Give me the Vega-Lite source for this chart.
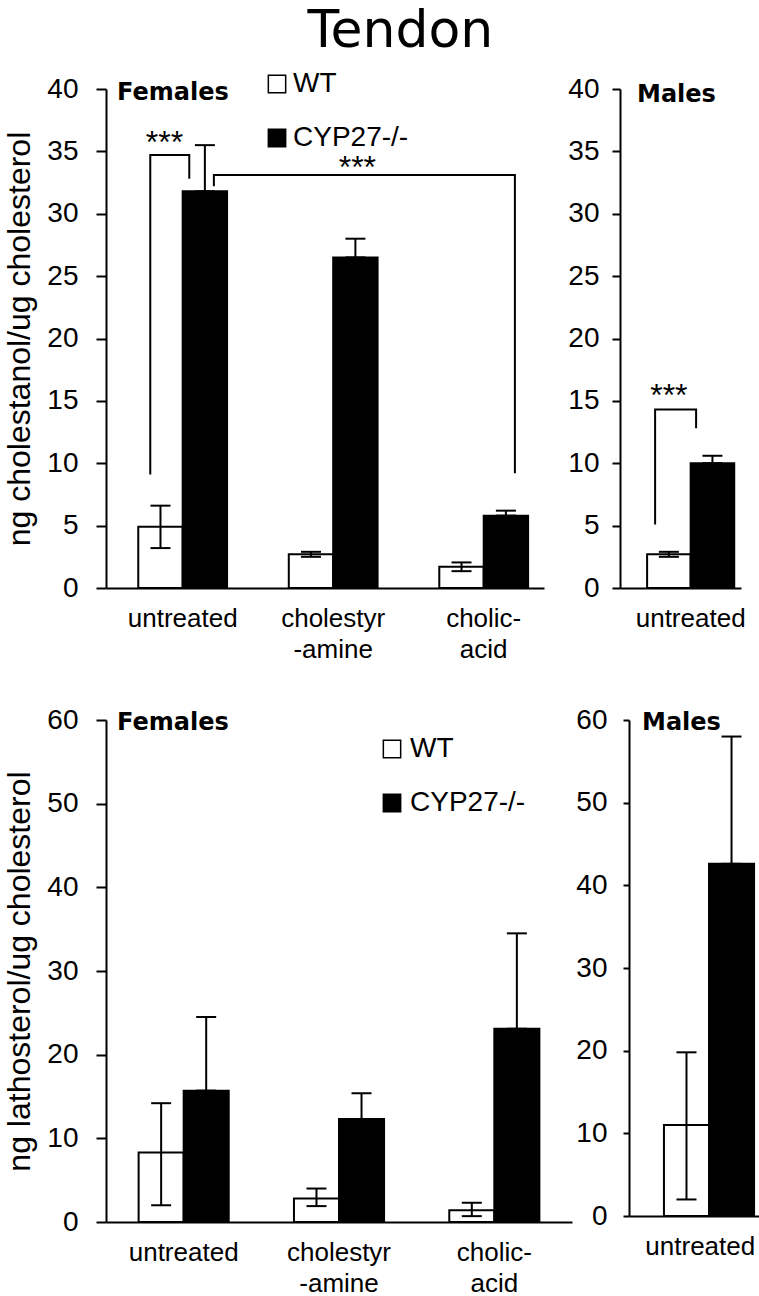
{
  "$schema": "https://vega.github.io/schema/vega-lite/v6.json",
  "padding": {"left": 3, "top": 5, "right": 0, "bottom": 0},
  "title": {"text": "Tendon", "font": "DejaVu Sans", "fontSize": 52, "fontWeight": "normal", "color": "black", "anchor": "middle", "dx": 17, "offset": 12},
  "config": {
    "view": {"stroke": null},
    "font": "Liberation Sans",
    "axis": {"domainColor": "black", "domainWidth": 2, "tickColor": "black", "tickWidth": 2, "labelColor": "black", "labelFont": "Liberation Sans", "titleFont": "Liberation Sans", "titleColor": "black", "grid": false},
    "legend": {"labelFont": "Liberation Sans", "labelColor": "black", "labelFontSize": 28, "symbolType": "square", "symbolSize": 300, "symbolStrokeColor": "black", "symbolStrokeWidth": 1.5, "symbolOpacity": 1, "padding": 0, "rowPadding": 26, "title": null, "direction": "vertical"}
  },
  "datasets": {
    "chol_f": [
      {"treatment": "untreated", "genotype": "WT", "mean": 4.9, "lo": 3.2, "hi": 6.6},
      {"treatment": "untreated", "genotype": "CYP27-/-", "mean": 31.8, "lo": 31.8, "hi": 35.5},
      {"treatment": "cholestyr|-amine", "genotype": "WT", "mean": 2.7, "lo": 2.5, "hi": 2.9},
      {"treatment": "cholestyr|-amine", "genotype": "CYP27-/-", "mean": 26.5, "lo": 26.5, "hi": 28.0},
      {"treatment": "cholic-|acid", "genotype": "WT", "mean": 1.7, "lo": 1.35, "hi": 2.05},
      {"treatment": "cholic-|acid", "genotype": "CYP27-/-", "mean": 5.8, "lo": 5.8, "hi": 6.2}
    ],
    "chol_m": [
      {"treatment": "untreated", "genotype": "WT", "mean": 2.7, "lo": 2.5, "hi": 2.9},
      {"treatment": "untreated", "genotype": "CYP27-/-", "mean": 10.0, "lo": 10.0, "hi": 10.6}
    ],
    "lath_f": [
      {"treatment": "untreated", "genotype": "WT", "mean": 8.3, "lo": 2.0, "hi": 14.2},
      {"treatment": "untreated", "genotype": "CYP27-/-", "mean": 15.7, "lo": 15.7, "hi": 24.5},
      {"treatment": "cholestyr|-amine", "genotype": "WT", "mean": 2.8, "lo": 1.9, "hi": 4.0},
      {"treatment": "cholestyr|-amine", "genotype": "CYP27-/-", "mean": 12.3, "lo": 12.3, "hi": 15.4},
      {"treatment": "cholic-|acid", "genotype": "WT", "mean": 1.4, "lo": 0.7, "hi": 2.3},
      {"treatment": "cholic-|acid", "genotype": "CYP27-/-", "mean": 23.1, "lo": 23.1, "hi": 34.5}
    ],
    "lath_m": [
      {"treatment": "untreated", "genotype": "WT", "mean": 11.0, "lo": 2.0, "hi": 19.8},
      {"treatment": "untreated", "genotype": "CYP27-/-", "mean": 42.6, "lo": 42.6, "hi": 58.0}
    ],
    "sig_fa": [
      {"step": 1, "treatment": "untreated", "genotype": "WT", "y": 9.1},
      {"step": 2, "treatment": "untreated", "genotype": "WT", "y": 34.7},
      {"step": 3, "treatment": "untreated", "genotype": "CYP27-/-", "y": 34.7},
      {"step": 4, "treatment": "untreated", "genotype": "CYP27-/-", "y": 32.8}
    ],
    "sig_fb": [
      {"step": 1, "treatment": "untreated", "genotype": "CYP27-/-", "y": 32.2},
      {"step": 2, "treatment": "untreated", "genotype": "CYP27-/-", "y": 33.1},
      {"step": 3, "treatment": "cholic-|acid", "genotype": "CYP27-/-", "y": 33.1},
      {"step": 4, "treatment": "cholic-|acid", "genotype": "CYP27-/-", "y": 9.2}
    ],
    "sig_m": [
      {"step": 1, "treatment": "untreated", "genotype": "WT", "y": 5.1},
      {"step": 2, "treatment": "untreated", "genotype": "WT", "y": 14.3},
      {"step": 3, "treatment": "untreated", "genotype": "CYP27-/-", "y": 14.3},
      {"step": 4, "treatment": "untreated", "genotype": "CYP27-/-", "y": 12.8}
    ],
    "stars_fa": [{"treatment": "untreated", "genotype": "WT", "y": 34.9, "label": "***"}],
    "stars_fb": [{"treatment": "cholestyr|-amine", "genotype": "CYP27-/-", "y": 32.9, "label": "***"}],
    "stars_m": [{"treatment": "untreated", "genotype": "WT", "y": 14.6, "label": "***"}]
  },
  "resolve": {"scale": {"fill": "independent"}, "legend": {"fill": "independent"}},
  "spacing": 44,
  "vconcat": [
    {
      "spacing": 23,
      "resolve": {"scale": {"fill": "independent"}, "legend": {"fill": "independent"}},
      "hconcat": [
        {
          "width": 438, "height": 499,
          "title": {"text": "Females", "anchor": "start", "frame": "group", "font": "DejaVu Sans", "fontSize": 24, "fontWeight": "bold", "color": "black", "baseline": "alphabetic", "offset": -44, "dx": 11, "dy": 10},
          "resolve": {"scale": {"xOffset": "independent"}},
          "encoding": {
            "x": {"field": "treatment", "type": "nominal", "sort": ["untreated", "cholestyr|-amine", "cholic-|acid"], "scale": {"paddingInner": 0.41, "paddingOuter": 0.16, "align": 0.67},
                  "axis": {"title": null, "ticks": false, "labelAngle": 0, "labelFontSize": 26, "labelLineHeight": 31, "labelPadding": 17, "labelExpr": "split(datum.label, '|')"}},
            "xOffset": {"field": "genotype", "type": "nominal", "sort": ["WT", "CYP27-/-"], "scale": {"domain": ["WT", "CYP27-/-"]}},
            "y": {"type": "quantitative", "scale": {"domain": [0, 40]},
                  "axis": {"values": [0, 5, 10, 15, 20, 25, 30, 35, 40], "title": "ng cholestanol/ug cholesterol", "titleFontSize": 32, "titleFontWeight": "normal", "titlePadding": 10, "labelFontSize": 28, "labelPadding": 18, "tickSize": 10}}
          },
          "layer": [
            {"data": {"name": "chol_f"}, "mark": {"type": "bar", "stroke": "black", "strokeWidth": 2},
             "encoding": {"y": {"field": "mean", "type": "quantitative"},
                          "fill": {"field": "genotype", "type": "nominal", "sort": ["WT", "CYP27-/-"], "scale": {"domain": ["WT", "CYP27-/-"], "range": ["white", "black"]},
                                   "legend": {"orient": "none", "legendX": 157, "legendY": -19, "labelOffset": 2}}}},
            {"data": {"name": "chol_f"}, "mark": {"type": "rule", "color": "black", "strokeWidth": 2},
             "encoding": {"y": {"field": "lo", "type": "quantitative"}, "y2": {"field": "hi"}}},
            {"data": {"name": "chol_f"}, "mark": {"type": "tick", "color": "black", "thickness": 2, "size": 20, "orient": "horizontal", "opacity": 1},
             "encoding": {"y": {"field": "hi", "type": "quantitative"}}},
            {"data": {"name": "chol_f"}, "mark": {"type": "tick", "color": "black", "thickness": 2, "size": 20, "orient": "horizontal", "opacity": 1},
             "encoding": {"y": {"field": "lo", "type": "quantitative"}}},
            {"data": {"name": "sig_fa"}, "mark": {"type": "line", "color": "black", "strokeWidth": 2},
             "encoding": {"y": {"field": "y", "type": "quantitative"}, "order": {"field": "step", "type": "quantitative"},
                          "xOffset": {"field": "genotype", "type": "nominal", "sort": ["WT", "CYP27-/-"], "scale": {"domain": ["WT", "CYP27-/-"], "range": [-7.5, 70.5]}}}},
            {"data": {"name": "sig_fb"}, "mark": {"type": "line", "color": "black", "strokeWidth": 2},
             "encoding": {"y": {"field": "y", "type": "quantitative"}, "order": {"field": "step", "type": "quantitative"},
                          "xOffset": {"field": "genotype", "type": "nominal", "sort": ["WT", "CYP27-/-"], "scale": {"domain": ["WT", "CYP27-/-"], "range": [9, 97.8]}}}},
            {"data": {"name": "stars_fa"}, "mark": {"type": "text", "font": "Liberation Sans", "fontSize": 32, "color": "black", "baseline": "alphabetic", "dx": 4},
             "encoding": {"y": {"field": "y", "type": "quantitative"}, "text": {"field": "label"}}},
            {"data": {"name": "stars_fb"}, "mark": {"type": "text", "font": "Liberation Sans", "fontSize": 32, "color": "black", "baseline": "alphabetic", "dx": 2},
             "encoding": {"y": {"field": "y", "type": "quantitative"}, "text": {"field": "label"}}}
          ]
        },
        {
          "width": 121, "height": 499,
          "title": {"text": "Males", "anchor": "start", "frame": "group", "font": "DejaVu Sans", "fontSize": 24, "fontWeight": "bold", "color": "black", "baseline": "alphabetic", "offset": -40, "dx": 17, "dy": 11},
          "resolve": {"scale": {"xOffset": "independent"}},
          "encoding": {
            "x": {"field": "treatment", "type": "nominal", "scale": {"paddingInner": 0.28, "paddingOuter": 0.14, "align": 0.8},
                  "axis": {"title": null, "ticks": false, "labelAngle": 0, "labelFontSize": 26, "labelLineHeight": 31, "labelPadding": 17}},
            "xOffset": {"field": "genotype", "type": "nominal", "sort": ["WT", "CYP27-/-"], "scale": {"domain": ["WT", "CYP27-/-"]}},
            "y": {"type": "quantitative", "scale": {"domain": [0, 40]},
                  "axis": {"values": [0, 5, 10, 15, 20, 25, 30, 35, 40], "title": null, "labelFontSize": 28, "labelPadding": 13, "tickSize": 8}}
          },
          "layer": [
            {"data": {"name": "chol_m"}, "mark": {"type": "bar", "stroke": "black", "strokeWidth": 2},
             "encoding": {"y": {"field": "mean", "type": "quantitative"},
                          "fill": {"field": "genotype", "type": "nominal", "scale": {"domain": ["WT", "CYP27-/-"], "range": ["white", "black"]}, "legend": null}}},
            {"data": {"name": "chol_m"}, "mark": {"type": "rule", "color": "black", "strokeWidth": 2},
             "encoding": {"y": {"field": "lo", "type": "quantitative"}, "y2": {"field": "hi"}}},
            {"data": {"name": "chol_m"}, "mark": {"type": "tick", "color": "black", "thickness": 2, "size": 20, "orient": "horizontal", "opacity": 1},
             "encoding": {"y": {"field": "hi", "type": "quantitative"}}},
            {"data": {"name": "chol_m"}, "mark": {"type": "tick", "color": "black", "thickness": 2, "size": 20, "orient": "horizontal", "opacity": 1},
             "encoding": {"y": {"field": "lo", "type": "quantitative"}}},
            {"data": {"name": "sig_m"}, "mark": {"type": "line", "color": "black", "strokeWidth": 2},
             "encoding": {"y": {"field": "y", "type": "quantitative"}, "order": {"field": "step", "type": "quantitative"},
                          "xOffset": {"field": "genotype", "type": "nominal", "sort": ["WT", "CYP27-/-"], "scale": {"domain": ["WT", "CYP27-/-"], "range": [-12.5, 69.5]}}}},
            {"data": {"name": "stars_m"}, "mark": {"type": "text", "font": "Liberation Sans", "fontSize": 32, "color": "black", "baseline": "alphabetic", "dx": 0},
             "encoding": {"y": {"field": "y", "type": "quantitative"}, "text": {"field": "label"}}}
          ]
        }
      ]
    },
    {
      "spacing": 3,
      "resolve": {"scale": {"fill": "independent"}, "legend": {"fill": "independent"}},
      "hconcat": [
        {
          "width": 466, "height": 502,
          "title": {"text": "Females", "anchor": "start", "frame": "group", "font": "DejaVu Sans", "fontSize": 24, "fontWeight": "bold", "color": "black", "baseline": "alphabetic", "offset": -37, "dx": 11, "dy": 11},
          "encoding": {
            "x": {"field": "treatment", "type": "nominal", "sort": ["untreated", "cholestyr|-amine", "cholic-|acid"], "scale": {"paddingInner": 0.42, "paddingOuter": 0.21, "align": 0.5},
                  "axis": {"title": null, "ticks": false, "labelAngle": 0, "labelFontSize": 26, "labelLineHeight": 31, "labelPadding": 17, "labelExpr": "split(datum.label, '|')"}},
            "xOffset": {"field": "genotype", "type": "nominal", "sort": ["WT", "CYP27-/-"]},
            "y": {"type": "quantitative", "scale": {"domain": [0, 60]},
                  "axis": {"values": [0, 10, 20, 30, 40, 50, 60], "title": "ng lathosterol/ug cholesterol", "titleFontSize": 32, "titleFontWeight": "normal", "titlePadding": 10, "labelFontSize": 28, "labelPadding": 18, "tickSize": 10}}
          },
          "layer": [
            {"data": {"name": "lath_f"}, "mark": {"type": "bar", "stroke": "black", "strokeWidth": 2},
             "encoding": {"y": {"field": "mean", "type": "quantitative"},
                          "fill": {"field": "genotype", "type": "nominal", "sort": ["WT", "CYP27-/-"], "scale": {"domain": ["WT", "CYP27-/-"], "range": ["white", "black"]},
                                   "legend": {"orient": "none", "legendX": 272, "legendY": 15, "labelOffset": 4}}}},
            {"data": {"name": "lath_f"}, "mark": {"type": "rule", "color": "black", "strokeWidth": 2},
             "encoding": {"y": {"field": "lo", "type": "quantitative"}, "y2": {"field": "hi"}}},
            {"data": {"name": "lath_f"}, "mark": {"type": "tick", "color": "black", "thickness": 2, "size": 20, "orient": "horizontal", "opacity": 1},
             "encoding": {"y": {"field": "hi", "type": "quantitative"}}},
            {"data": {"name": "lath_f"}, "mark": {"type": "tick", "color": "black", "thickness": 2, "size": 20, "orient": "horizontal", "opacity": 1},
             "encoding": {"y": {"field": "lo", "type": "quantitative"}}}
          ]
        },
        {
          "width": 134, "height": 496,
          "title": {"text": "Males", "anchor": "start", "frame": "group", "font": "DejaVu Sans", "fontSize": 24, "fontWeight": "bold", "color": "black", "baseline": "alphabetic", "offset": -37, "dx": 13, "dy": 11},
          "encoding": {
            "x": {"field": "treatment", "type": "nominal", "scale": {"paddingInner": 0.455, "paddingOuter": 0.23, "align": 0.57},
                  "axis": {"title": null, "ticks": false, "labelAngle": 0, "labelFontSize": 26, "labelLineHeight": 31, "labelPadding": 17}},
            "xOffset": {"field": "genotype", "type": "nominal", "sort": ["WT", "CYP27-/-"]},
            "y": {"type": "quantitative", "scale": {"domain": [0, 60]},
                  "axis": {"values": [0, 10, 20, 30, 40, 50, 60], "title": null, "labelFontSize": 28, "labelPadding": 16, "tickSize": 6}}
          },
          "layer": [
            {"data": {"name": "lath_m"}, "mark": {"type": "bar", "stroke": "black", "strokeWidth": 2},
             "encoding": {"y": {"field": "mean", "type": "quantitative"},
                          "fill": {"field": "genotype", "type": "nominal", "scale": {"domain": ["WT", "CYP27-/-"], "range": ["white", "black"]}, "legend": null}}},
            {"data": {"name": "lath_m"}, "mark": {"type": "rule", "color": "black", "strokeWidth": 2},
             "encoding": {"y": {"field": "lo", "type": "quantitative"}, "y2": {"field": "hi"}}},
            {"data": {"name": "lath_m"}, "mark": {"type": "tick", "color": "black", "thickness": 2, "size": 20, "orient": "horizontal", "opacity": 1},
             "encoding": {"y": {"field": "hi", "type": "quantitative"}}},
            {"data": {"name": "lath_m"}, "mark": {"type": "tick", "color": "black", "thickness": 2, "size": 20, "orient": "horizontal", "opacity": 1},
             "encoding": {"y": {"field": "lo", "type": "quantitative"}}}
          ]
        }
      ]
    }
  ]
}
